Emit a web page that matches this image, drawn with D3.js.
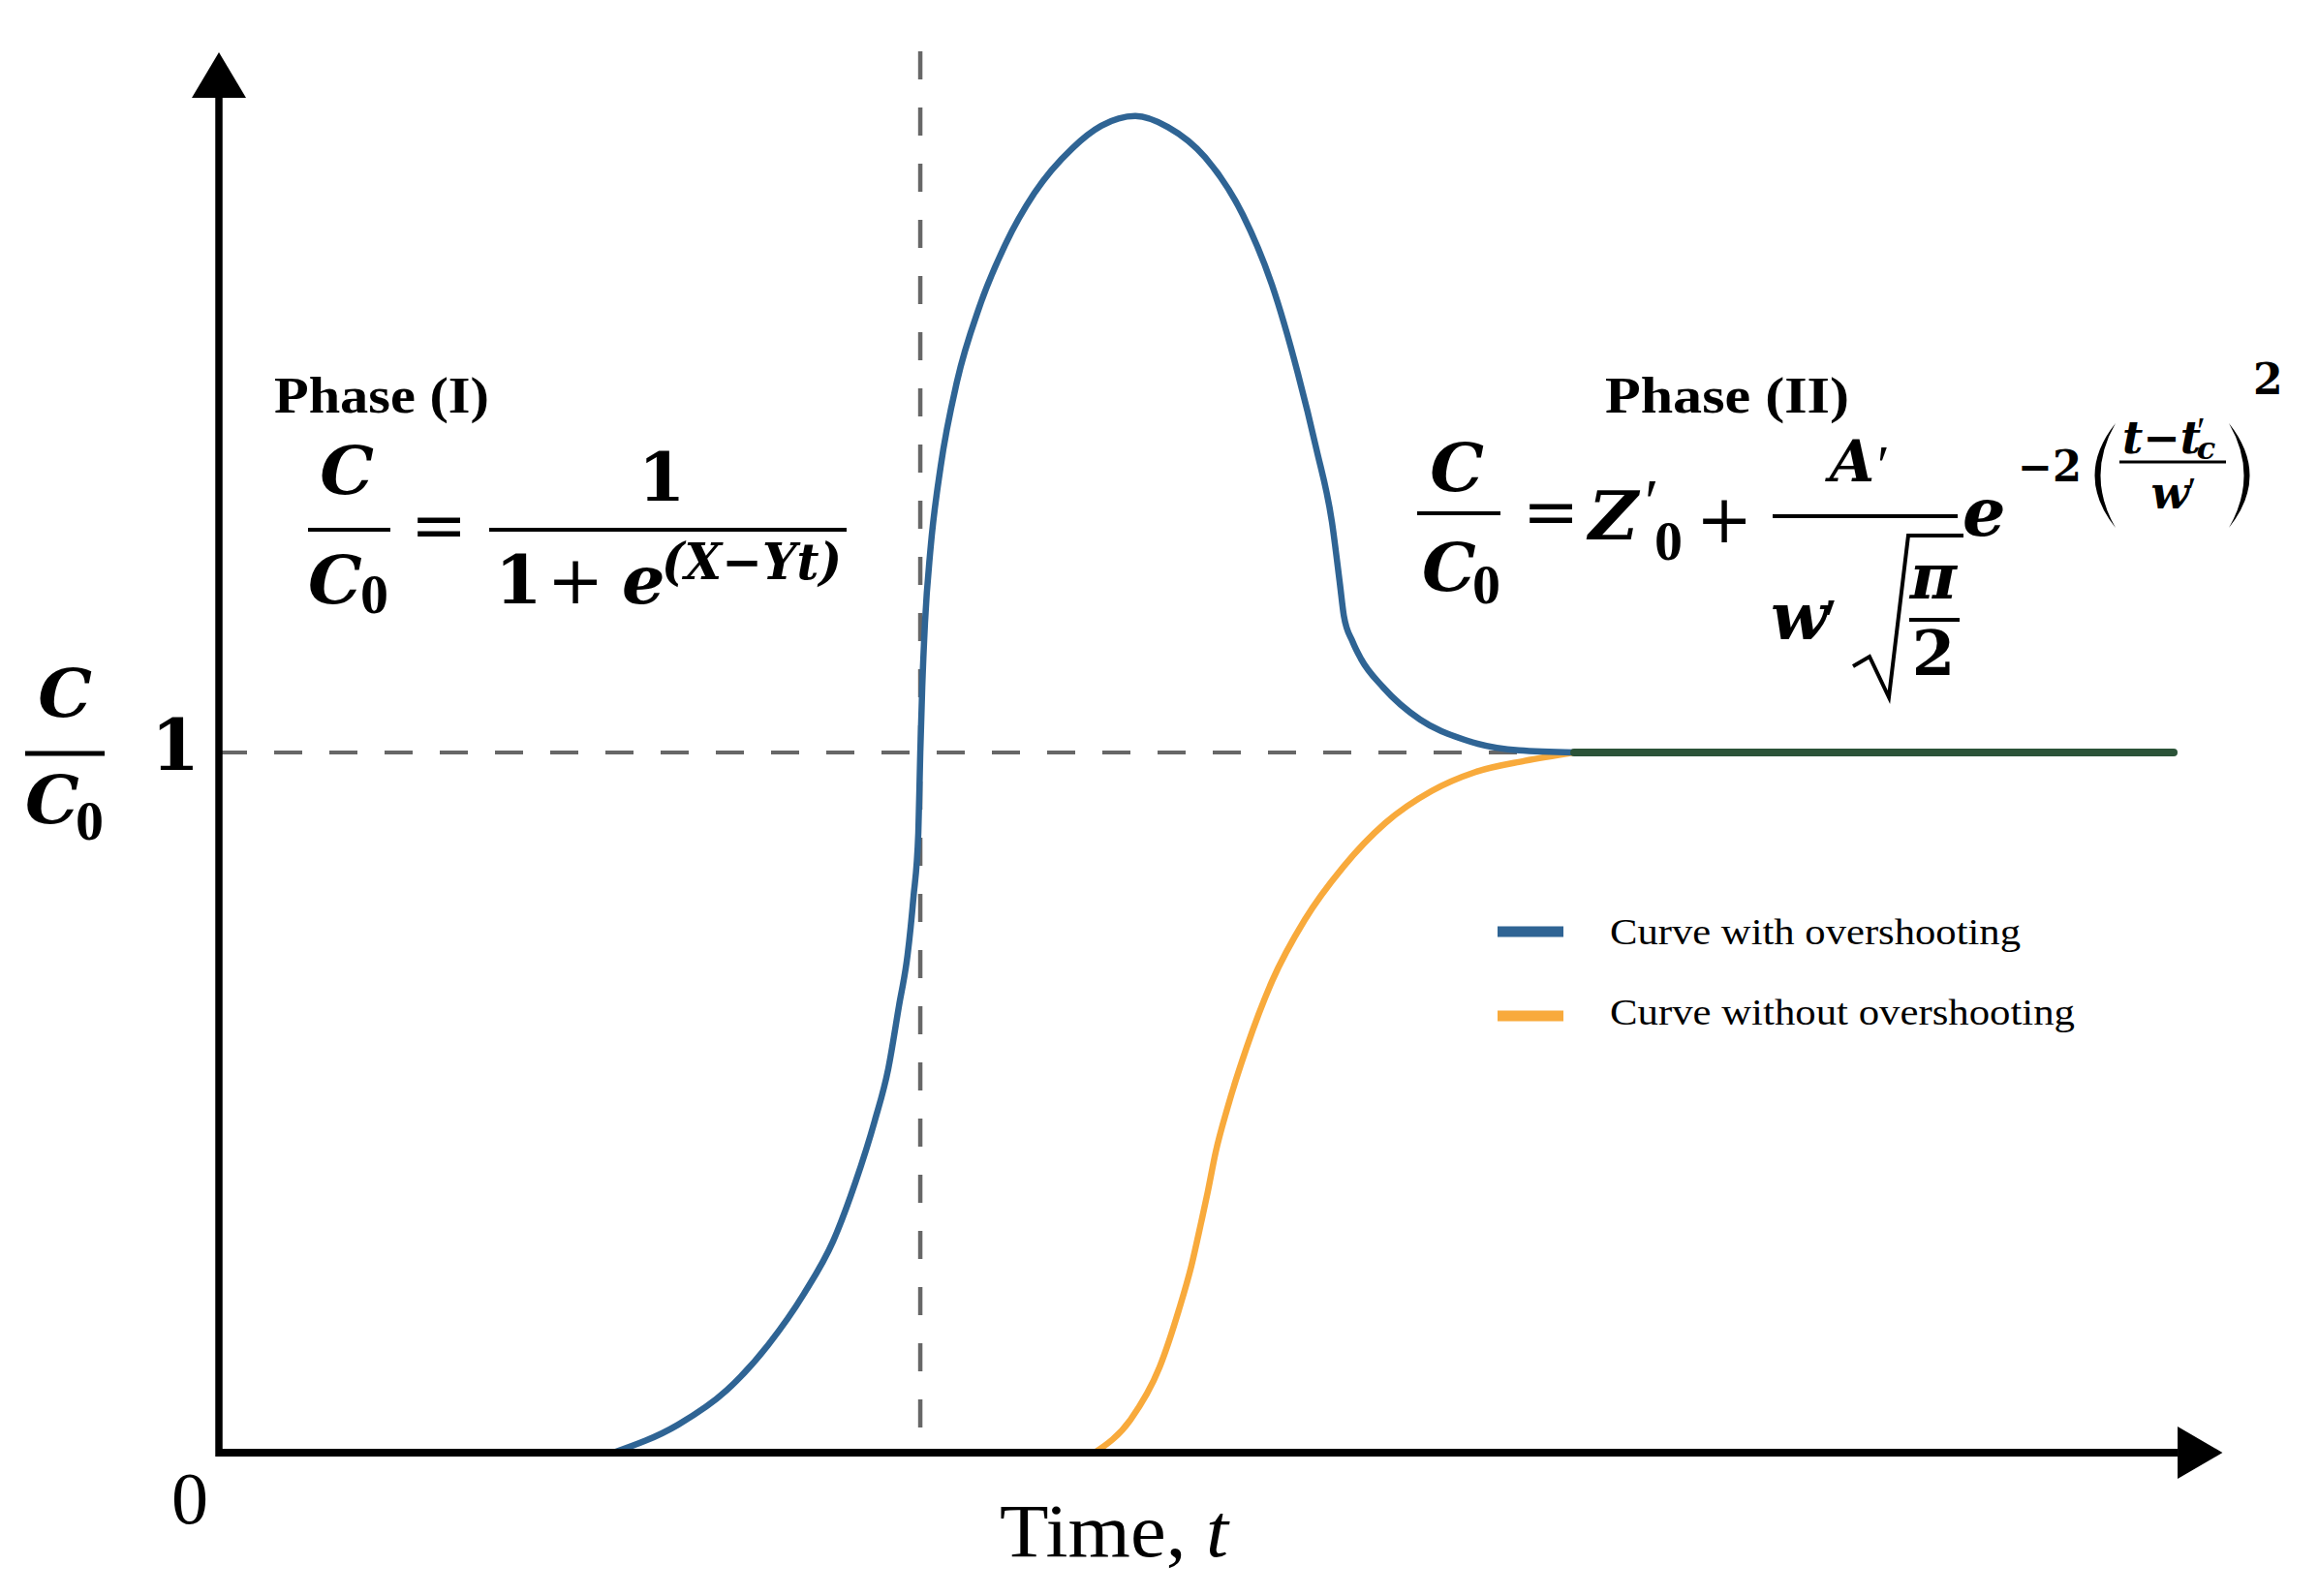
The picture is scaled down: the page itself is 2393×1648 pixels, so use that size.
<!DOCTYPE html>
<html>
<head>
<meta charset="utf-8">
<script src="https://cdn.jsdelivr.net/npm/d3@7"></script>
<style>
  html, body { margin: 0; padding: 0; background: #ffffff; }
  svg { display: block; }
</style>
</head>
<body>
<script>
// ---------------- DATA ----------------
// Curve with overshooting: time t and normalised concentration C/C0
const overshootT = [2.017, 2.349, 2.597, 2.810, 2.993, 3.142, 3.256, 3.355, 3.424, 3.479, 3.523, 3.553, 3.578, 3.588, 3.598, 3.612, 3.640, 3.692, 3.776, 3.890, 4.024, 4.172, 4.366, 4.514, 4.688, 4.856, 5.045, 5.238, 5.387, 5.520, 5.614, 5.694, 5.735, 5.755, 5.800, 5.842, 5.956, 6.145, 6.363, 6.650, 6.933];
const overshootC = [0.000, 0.040, 0.089, 0.154, 0.227, 0.302, 0.386, 0.474, 0.548, 0.638, 0.711, 0.793, 0.885, 1.000, 1.093, 1.185, 1.290, 1.408, 1.530, 1.636, 1.726, 1.799, 1.863, 1.895, 1.909, 1.893, 1.850, 1.768, 1.668, 1.541, 1.434, 1.329, 1.240, 1.195, 1.158, 1.134, 1.093, 1.047, 1.019, 1.003, 1.000];
// Curve without overshooting
const noOvershootT = [4.480, 4.663, 4.812, 4.911, 4.975, 5.025, 5.059, 5.099, 5.159, 5.258, 5.387, 5.555, 5.753, 5.966, 6.204, 6.427, 6.680, 6.933];
const noOvershootC = [0.000, 0.047, 0.122, 0.204, 0.267, 0.329, 0.373, 0.429, 0.492, 0.579, 0.673, 0.761, 0.837, 0.899, 0.945, 0.972, 0.988, 1.000];
// Common plateau where both curves coincide
const plateauT = [6.933, 10.0];
const plateauC = [1.0, 1.0];
// Phase boundary (vertical dashed line) and reference level (horizontal dashed line)
const phaseBoundaryT = 3.588;
const referenceC = 1.0;
// Axis tick labels
const yTickValues = [1];
const yTickLabels = ["1"];
const originLabel = "0";
const legendLabels = ["Curve with overshooting", "Curve without overshooting"];
const seriesColors = ["#2f6494", "#f8aa3c", "#2b5338"];

// ---------------- LAYOUT ----------------
const W = 2393, H = 1648;
const svg = d3.select("body").append("svg").attr("width", W).attr("height", H)
  .attr("viewBox", `0 0 ${W} ${H}`);
svg.append("rect").attr("width", W).attr("height", H).attr("fill", "#ffffff");

const x = d3.scaleLinear().domain([0, 10]).range([226, 2244]);
const y = d3.scaleLinear().domain([0, 2]).range([1500, 54]);

const MATH = "'DejaVu Serif', serif";
const SERIF = "'Liberation Serif', 'Times New Roman', serif";

function txt(g, px, py, s, o = {}) {
  const t = g.append("text").attr("x", px).attr("y", py)
    .attr("font-family", o.family || MATH)
    .attr("font-size", o.size || 70)
    .attr("font-weight", o.weight || "bold")
    .attr("font-style", o.style || "normal")
    .attr("text-anchor", o.anchor || "start")
    .attr("fill", o.fill || "#000")
    .text(s);
  if (o.len) t.attr("textLength", o.len).attr("lengthAdjust", "spacingAndGlyphs");
  return t;
}
function hline(g, x1, x2, yy, w = 4) {
  g.append("line").attr("x1", x1).attr("x2", x2).attr("y1", yy).attr("y2", yy)
    .attr("stroke", "#000").attr("stroke-width", w);
}
const PRIME = "\u2032";

// ---------------- GUIDES ----------------
const guides = svg.append("g");
guides.append("line")
  .attr("x1", x(0)).attr("x2", x(plateauT[0]))
  .attr("y1", y(referenceC)).attr("y2", y(referenceC))
  .attr("stroke", "#676767").attr("stroke-width", 4).attr("stroke-dasharray", "29 28");
guides.append("line")
  .attr("x1", x(phaseBoundaryT)).attr("x2", x(phaseBoundaryT))
  .attr("y1", y(2) - 1).attr("y2", y(0))
  .attr("stroke", "#676767").attr("stroke-width", 4.5).attr("stroke-dasharray", "29 29");

// ---------------- CURVES ----------------
const line = d3.line().x(d => x(d[0])).y(d => y(d[1])).curve(d3.curveMonotoneX);
const zip = (a, b) => a.map((v, i) => [v, b[i]]);

svg.append("path").datum(zip(noOvershootT, noOvershootC)).attr("d", line)
  .attr("fill", "none").attr("stroke", seriesColors[1]).attr("stroke-width", 6.5);
svg.append("path").datum(zip(overshootT, overshootC)).attr("d", line)
  .attr("fill", "none").attr("stroke", seriesColors[0]).attr("stroke-width", 6.5);
svg.append("path").datum(zip(plateauT, plateauC)).attr("d", d3.line().x(d => x(d[0])).y(d => y(d[1])))
  .attr("fill", "none").attr("stroke", seriesColors[2]).attr("stroke-width", 8).attr("stroke-linecap", "round");

// ---------------- AXES ----------------
const ax = svg.append("g");
const xEnd = x(10.02), yEnd = y(1.935);
ax.append("line").attr("x1", x(0)).attr("x2", xEnd).attr("y1", y(0)).attr("y2", y(0))
  .attr("stroke", "#000").attr("stroke-width", 8);
ax.append("line").attr("x1", x(0)).attr("x2", x(0)).attr("y1", y(0) + 4).attr("y2", yEnd)
  .attr("stroke", "#000").attr("stroke-width", 7.5);
ax.append("path").attr("d", `M${xEnd},${y(0) - 27}L${x(10.25)},${y(0)}L${xEnd},${y(0) + 27}Z`).attr("fill", "#000");
ax.append("path").attr("d", `M${x(0) - 28},${yEnd}L${x(0)},${y(2.0)}L${x(0) + 28},${yEnd}Z`).attr("fill", "#000");

// tick labels
yTickValues.forEach((v, i) => {
  txt(ax, 156, y(v) + 18, yTickLabels[i], { size: 72, family: MATH });
});
txt(ax, 177, 1573, originLabel, { size: 76, weight: "normal", family: SERIF });

// x title
const xt = ax.append("text").attr("x", 1032).attr("y", 1607)
  .attr("font-family", SERIF).attr("font-size", 78).attr("fill", "#000")
  .attr("textLength", 236).attr("lengthAdjust", "spacingAndGlyphs");
xt.append("tspan").text("Time, ");
xt.append("tspan").attr("font-style", "italic").text("t");

// y title  C / C0
const yl = svg.append("g");
txt(yl, 67, 740, "C", { style: "italic", anchor: "middle", size: 70 });
hline(yl, 26, 108, 778, 5);
txt(yl, 26, 850, "C", { style: "italic", size: 70 });
txt(yl, 78, 867, "0", { size: 58, family: SERIF });

// ---------------- FORMULA I ----------------
const f1 = svg.append("g");
txt(f1, 283, 426, "Phase (I)", { family: SERIF, size: 52, len: 222 });
txt(f1, 358, 510, "C", { style: "italic", anchor: "middle", size: 70 });
hline(f1, 318, 403, 547, 4);
txt(f1, 318, 623, "C", { style: "italic", size: 70 });
txt(f1, 372, 633, "0", { size: 58, family: SERIF });
txt(f1, 453, 566, "=", { anchor: "middle", size: 70, weight: "normal" });
txt(f1, 683, 517, "1", { anchor: "middle", size: 70 });
hline(f1, 505, 874, 547, 4);
txt(f1, 511, 623, "1", { size: 70 });
txt(f1, 594, 623, "+", { anchor: "middle", size: 70, weight: "normal" });
txt(f1, 642, 623, "e", { style: "italic", size: 70 });
txt(f1, 683, 598, "(X\u2212Yt)", { style: "italic", size: 52, len: 186 });

// ---------------- FORMULA II ----------------
const f2 = svg.append("g");
txt(f2, 1657, 426, "Phase (II)", { family: SERIF, size: 52, len: 252 });
txt(f2, 1504, 507, "C", { style: "italic", anchor: "middle", size: 70 });
hline(f2, 1463, 1549, 530, 4);
txt(f2, 1468, 610, "C", { style: "italic", size: 70 });
txt(f2, 1520, 623, "0", { size: 58, family: SERIF });
txt(f2, 1601, 552, "=", { anchor: "middle", size: 70, weight: "normal" });
txt(f2, 1640, 557, "Z", { style: "italic", size: 70 });
txt(f2, 1698, 540, PRIME, { size: 66, family: SERIF, weight: "normal" });
txt(f2, 1708, 578, "0", { size: 58, family: SERIF });
txt(f2, 1780, 560, "+", { anchor: "middle", size: 70, weight: "normal" });
txt(f2, 1912, 497, "A", { style: "italic", anchor: "middle", size: 60 });
txt(f2, 1938, 500, PRIME, { size: 58, family: SERIF, weight: "normal" });
hline(f2, 1830, 2021, 533, 4);
txt(f2, 1828, 660, "w", { style: "italic", size: 68 });
txt(f2, 1883, 662, PRIME, { size: 64, family: SERIF, weight: "normal" });
f2.append("path").attr("d", "M1913,688L1930,678L1950,720L1970,553L2027,553")
  .attr("fill", "none").attr("stroke", "#000").attr("stroke-width", 4).attr("stroke-linejoin", "miter");
txt(f2, 1996, 618, "\u03c0", { style: "italic", anchor: "middle", size: 66 });
hline(f2, 1971, 2023, 640, 4);
txt(f2, 1996, 697, "2", { anchor: "middle", size: 64 });
txt(f2, 2026, 553, "e", { style: "italic", size: 70 });
txt(f2, 2083, 497, "\u22122", { size: 44, weight: "bold", len: 66 });
// stretched delimiters drawn as shapes
f2.append("path").attr("d", "M2184,437Q2141,491 2184,545Q2153,491 2184,437Z").attr("fill", "#000");
f2.append("path").attr("d", "M2301,437Q2344,491 2301,545Q2332,491 2301,437Z").attr("fill", "#000");
// t − t'_c as a single text with tspans
const tt = f2.append("text").attr("x", 2191).attr("y", 468)
  .attr("font-family", MATH).attr("font-weight", "bold").attr("fill", "#000");
tt.append("tspan").attr("font-style", "italic").attr("font-size", 46).text("t\u2212t");
tt.append("tspan").attr("font-family", SERIF).attr("font-weight", "normal").attr("font-size", 40)
  .attr("dx", -4).attr("dy", -10).text(PRIME);
tt.append("tspan").attr("font-style", "italic").attr("font-size", 32)
  .attr("dx", -9).attr("dy", 16).text("c");
hline(f2, 2188, 2298, 477, 3);
const ww = f2.append("text").attr("x", 2244).attr("y", 525).attr("text-anchor", "middle")
  .attr("font-family", MATH).attr("font-weight", "bold").attr("fill", "#000");
ww.append("tspan").attr("font-style", "italic").attr("font-size", 46).text("w");
ww.append("tspan").attr("font-family", SERIF).attr("font-weight", "normal").attr("font-size", 42)
  .attr("dx", -2).attr("dy", -3).text(PRIME);
txt(f2, 2326, 407, "2", { size: 44, weight: "bold" });

// ---------------- LEGEND ----------------
const lg = svg.append("g");
const legY = [962, 1049];
legendLabels.forEach((lab, i) => {
  lg.append("line").attr("x1", 1546).attr("x2", 1614).attr("y1", legY[i]).attr("y2", legY[i])
    .attr("stroke", seriesColors[i]).attr("stroke-width", 11);
  txt(lg, 1662, legY[i] + 13 + i * -4, lab, { family: SERIF, size: 38, weight: "normal", len: i === 0 ? 424 : 480 });
});
</script>
</body>
</html>
